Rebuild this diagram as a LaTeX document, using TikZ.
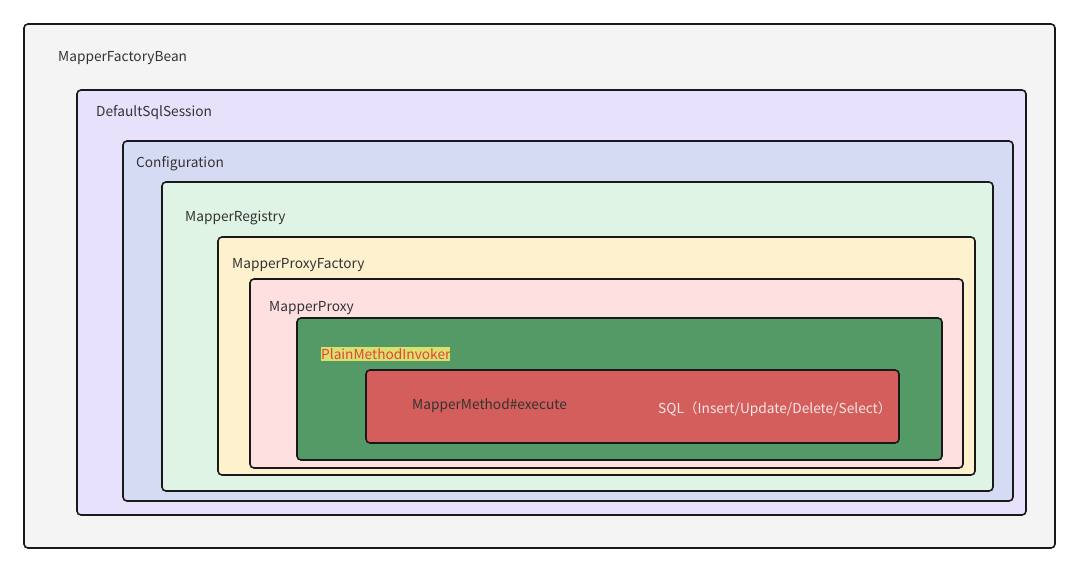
\documentclass[tikz,border=0pt]{standalone}
\usepackage{fontspec}
\setmainfont{Noto Sans CJK SC}
\definecolor{cgray}{HTML}{F4F4F4}
\definecolor{clav}{HTML}{E8E1FB}
\definecolor{cconf}{HTML}{D6DBF4}
\definecolor{cmint}{HTML}{DFF4E5}
\definecolor{ccream}{HTML}{FEF1CE}
\definecolor{cpink}{HTML}{FFE0E0}
\definecolor{cgreen}{HTML}{539A66}
\definecolor{cred}{HTML}{D45E5B}
\definecolor{chl}{HTML}{DCE16E}
\definecolor{credtxt}{HTML}{E3443A}
\definecolor{cdark}{HTML}{333333}
\definecolor{csql}{HTML}{F7E8E8}
\tikzset{
  layer/.style={draw=black!90, line width=1.6pt, rounded corners=4pt},
  lbl/.style={anchor=west, inner sep=0pt, font=\fontsize{13.7}{16}\selectfont, text=cdark},
}
\begin{document}
\begin{tikzpicture}[x=1pt,y=-1pt]
\useasboundingbox[fill=white] (0,0) rectangle (1080,572);
\path[layer, fill=cgray]  (24,24)   rectangle (1055,548);
\path[layer, fill=clav]   (77,90)   rectangle (1026,515);
\path[layer, fill=cconf]  (123,141) rectangle (1013,501);
\path[layer, fill=cmint]  (162,182) rectangle (993,491);
\path[layer, fill=ccream] (218,237) rectangle (975,475);
\path[layer, fill=cpink]  (250,279) rectangle (963,468);
\path[layer, fill=cgreen] (297,318) rectangle (942,460);
\path[layer, fill=cred]   (366,370) rectangle (899,443);
\node[lbl] (mfb) at (58,58.5) {MapperFactoryBean};
\node[lbl] (dss) at (96,112.5) {DefaultSqlSession};
\node[lbl] (cfg) at (136,163.5) {Configuration};
\node[lbl] (mr) at (185,217.5) {MapperRegistry};
\node[lbl] (mpf) at (232,265.5) {MapperProxyFactory};
\node[lbl] (mp) at (269,308.5) {MapperProxy};
\node[lbl, fill=chl, text=credtxt, inner ysep=1.5pt] (pmi) at (321,354) {PlainMethodInvoker};
\node[lbl] (mme) at (412,406) {MapperMethod\#execute};
\node[lbl, text=csql] (sql) at (658,409) {SQL（Insert/Update/Delete/Select）};
\end{tikzpicture}
\end{document}
